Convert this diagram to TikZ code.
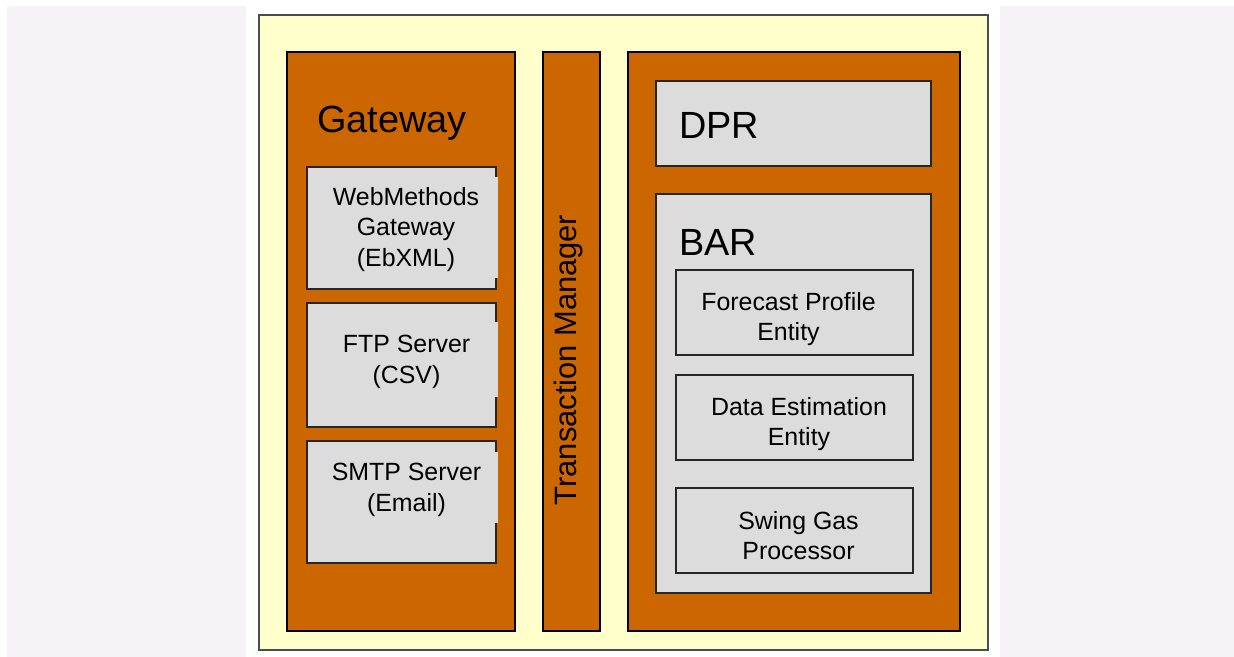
\documentclass[tikz,border=0pt]{standalone}
\usepackage{fontspec}
\setmainfont{Liberation Sans}

\definecolor{pagegrey}{HTML}{F5F3F5}
\definecolor{panelyellow}{HTML}{FFFFCC}
\definecolor{layerorange}{HTML}{CC6600}
\definecolor{boxgrey}{HTML}{DCDCDC}

\tikzset{
  layer/.style={fill=layerorange, draw=black, line width=2.5bp},
  unit/.style={fill=boxgrey, draw=black!85, line width=1.2bp},
  bigtext/.style={font=\fontsize{38}{44}\selectfont, inner sep=0pt},
  smalltext/.style={font=\fontsize{25}{31}\selectfont, align=center, inner sep=0pt},
}

\begin{document}
\begin{tikzpicture}[x=1bp, y=-1bp, line join=miter]
\useasboundingbox (0,0) rectangle (1234,657);

% page margins
\fill[pagegrey] (7,6) rectangle (246,657);
\fill[pagegrey] (1000,6) rectangle (1234,657);

% panel
\draw[fill=panelyellow, draw=black!70, line width=1.5bp] (259,15) rectangle (988,650);

% three layers
\draw[layer] (287,52) rectangle (515,631);
\draw[layer] (543,52) rectangle (600,631);
\draw[layer] (628,52) rectangle (960,631);

% gateway side
\node[bigtext, anchor=base west] (gw) at (317,133) {Gateway};

\draw[unit] (307,167) rectangle (496,289);
\draw[unit] (307,303) rectangle (496,427);
\draw[unit] (307,441) rectangle (496,563);
\fill[boxgrey] (494,177) rectangle (497.5,278);
\fill[boxgrey] (494,322) rectangle (497.5,397);
\fill[boxgrey] (494,452) rectangle (497.5,523);

\node[smalltext] (web) at (406,229.5) {WebMethods\\Gateway\\(EbXML)};
\node[smalltext] (ftp) at (406.5,362) {FTP Server\\(CSV)};
\node[smalltext] (smtp) at (406.5,490) {SMTP Server\\(Email)};

% transaction manager
\node[font=\fontsize{31}{36}\selectfont, rotate=90, inner sep=0pt] (tm) at (569,360) {Transaction Manager};

% DPR and BAR
\draw[unit] (656,81) rectangle (931,166);
\node[bigtext, anchor=base west] (dpr) at (679,139) {DPR};

\draw[unit] (656,194) rectangle (931,593);
\node[bigtext, anchor=base west] (bar) at (679,255) {BAR};

\draw[unit] (676,270) rectangle (913,355);
\draw[unit] (676,375) rectangle (913,460);
\draw[unit] (676,488) rectangle (913,573);

\node[smalltext, font=\fontsize{25}{30}\selectfont] (fpe) at (788.5,319.5) {Forecast Profile\\Entity};
\node[smalltext, font=\fontsize{25}{30}\selectfont] (dee) at (799,424.5) {Data Estimation\\Entity};
\node[smalltext, font=\fontsize{25}{30}\selectfont] (sgp) at (798.5,535.5) {Swing Gas\\Processor};
\end{tikzpicture}
\end{document}
